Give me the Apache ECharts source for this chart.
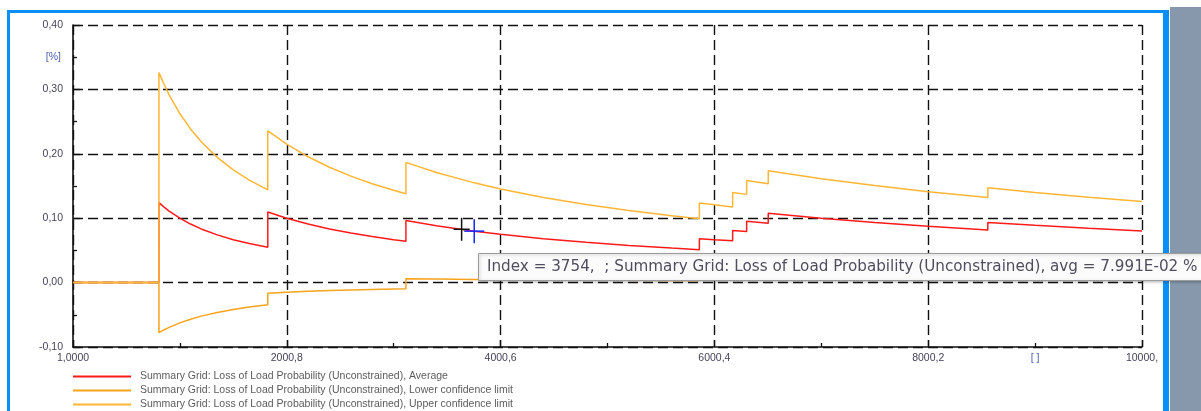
<!DOCTYPE html>
<html>
<head>
<meta charset="utf-8">
<title>Loss of Load Probability</title>
<script src="https://cdn.jsdelivr.net/npm/echarts@6/dist/echarts.min.js"></script>
<style>
  html, body { margin: 0; padding: 0; background: #ffffff; }
  #chart { width: 1201px; height: 411px; }
</style>
</head>
<body>
<div id="chart"></div>
<script>
// Iteration index; an index is repeated where a new event makes the estimate step.
const iterations = [
  1, 805,
  805, 850, 900, 1000, 1100, 1200, 1350, 1500, 1650, 1823,
  1823, 2000, 2200, 2400, 2600, 2800, 3000, 3115,
  3115, 3400, 3754, 4000, 4400, 4800, 5200, 5600, 5860,
  5860, 6000, 6171,
  6171, 6302,
  6302, 6504,
  6504, 7000, 7500, 8000, 8558,
  8558, 9000, 9500, 10000
];

// Running average [%]
const avgValues = [
  0, 0,
  0.12422, 0.11765, 0.11111, 0.10000, 0.09091, 0.08333, 0.07407, 0.06667, 0.06061, 0.05485,
  0.10971, 0.10000, 0.09091, 0.08333, 0.07692, 0.07143, 0.06667, 0.06421,
  0.09631, 0.08824, 0.07991, 0.07500, 0.06818, 0.06250, 0.05769, 0.05357, 0.05119,
  0.06826, 0.06667, 0.06482,
  0.08102, 0.07934,
  0.09521, 0.09225,
  0.10763, 0.10000, 0.09333, 0.08750, 0.08180,
  0.09348, 0.08889, 0.08421, 0.08000
];

// Lower confidence limit [%]
const lowerValues = [
  0, 0,
  -0.07764, -0.07353, -0.06944, -0.06250, -0.05682, -0.05208, -0.04630, -0.04167, -0.03788, -0.03428,
  -0.01635, -0.01490, -0.01355, -0.01242, -0.01146, -0.01064, -0.00993, -0.00957,
  0.00595, 0.00545, 0.00494, 0.00464, 0.00421, 0.00386, 0.00357, 0.00331, 0.00316,
  0.01280, 0.01250, 0.01215,
  0.02214, 0.02168,
  0.03205, 0.03105,
  0.04152, 0.03858, 0.03601, 0.03376, 0.03156,
  0.03978, 0.03782, 0.03583, 0.03404
];

// Upper confidence limit [%]
const upperValues = [
  0, 0,
  0.32609, 0.30882, 0.29167, 0.26250, 0.23864, 0.21875, 0.19444, 0.17500, 0.15909, 0.14399,
  0.23577, 0.21490, 0.19536, 0.17908, 0.16531, 0.15350, 0.14327, 0.13798,
  0.18666, 0.17102, 0.15489, 0.14537, 0.13215, 0.12114, 0.11182, 0.10383, 0.09923,
  0.12372, 0.12083, 0.11748,
  0.13990, 0.13700,
  0.15837, 0.15345,
  0.17373, 0.16142, 0.15066, 0.14124, 0.13203,
  0.14718, 0.13996, 0.13259, 0.12596
];

// Axis ticks and labels
const xTickValues = [1, 2000.8, 4000.6, 6000.4, 8000.2, 10000];
const xTickLabels = ['1,0000', '2000,8', '4000,6', '6000,4', '8000,2', '10000,'];
const xMinorValues = [1000.9, 3000.7, 5000.5, 7000.3, 9000.1];
const xUnitAt = 9000.1;
const xUnitLabel = '[ ]';
const yMin = -0.1, yMax = 0.4, yStep = 0.1;
const yMinorValues = [-0.05, 0.05, 0.15, 0.25, 0.35];
const yUnitAt = 0.35;
const yUnitLabel = '[%]';

const seriesTitle = 'Summary Grid: Loss of Load Probability (Unconstrained)';
const seriesNames = [
  seriesTitle + ', Average',
  seriesTitle + ', Lower confidence limit',
  seriesTitle + ', Upper confidence limit'
];

// Probed sample and mouse cursor position (index, value)
const probePoint = [3754, 0.07991];
const cursorPoint = [3636, 0.0828];

const colors = { avg: '#ff1a1a', lower: '#f8a31c', upper: '#ffb634' };

function sci(v) {
  const [m, e] = v.toExponential(3).split('e');
  const n = parseInt(e, 10);
  return m + 'E' + (n < 0 ? '-' : '+') + String(Math.abs(n)).padStart(2, '0');
}

const probeText = 'Index = ' + probePoint[0] + ',  ; ' + seriesTitle + ', avg = ' + sci(probePoint[1]) + ' %';

const pairs = vals => iterations.map((x, i) => [x, vals[i]]);

const labelFont = { fontSize: 10.5, fontFamily: 'Liberation Sans, Arial, sans-serif' };
const gridLine = { show: true, lineStyle: { color: '#111111', width: 1.4, type: [10, 5] } };

const chart = echarts.init(document.getElementById('chart'), null, { renderer: 'canvas' });

chart.setOption({
  backgroundColor: '#ffffff',
  animation: false,
  grid: { left: 73, right: 59, top: 25, bottom: 64, containLabel: false },
  legend: {
    data: seriesNames,
    orient: 'vertical',
    left: 73,
    top: 371,
    padding: 0,
    icon: 'rect',
    itemWidth: 58,
    itemHeight: 2,
    itemGap: 3,
    selectedMode: false,
    textStyle: Object.assign({ color: '#5c5c5c', padding: [0, 0, 0, 4] }, labelFont)
  },
  xAxis: [
    {
      type: 'value', min: 1, max: 10000, position: 'bottom',
      axisLine: { show: true, onZero: false, lineStyle: { color: '#111111', width: 1.6 } },
      axisTick: { show: true, inside: true, length: 7, customValues: xTickValues, lineStyle: { color: '#111111', width: 1.3 } },
      axisLabel: Object.assign({
        customValues: xTickValues, margin: 6, color: '#44445a',
        formatter: v => {
          const i = xTickValues.findIndex(t => Math.abs(t - v) < 1e-6);
          return i >= 0 ? xTickLabels[i] : '';
        }
      }, labelFont),
      splitLine: gridLine
    },
    {
      type: 'value', min: 1, max: 10000, position: 'bottom',
      axisLine: { show: false, onZero: false },
      axisTick: { show: true, inside: true, length: 4, customValues: xMinorValues, lineStyle: { color: '#111111', width: 1.3 } },
      axisLabel: Object.assign({ customValues: [xUnitAt], margin: 6, color: '#4a5fb0', formatter: () => xUnitLabel }, labelFont),
      splitLine: { show: false }
    }
  ],
  yAxis: [
    {
      type: 'value', min: yMin, max: yMax, interval: yStep, position: 'left',
      axisLine: { show: true, onZero: false, lineStyle: { color: '#111111', width: 1.6 } },
      axisTick: { show: true, inside: true, length: 7, lineStyle: { color: '#111111', width: 1.3 } },
      axisLabel: Object.assign({ margin: 10, color: '#44445a', formatter: v => v.toFixed(2).replace('.', ',') }, labelFont),
      splitLine: gridLine
    },
    {
      type: 'value', min: yMin, max: yMax, position: 'left',
      axisLine: { show: false, onZero: false },
      axisTick: { show: true, inside: true, length: 4, customValues: yMinorValues, lineStyle: { color: '#111111', width: 1.3 } },
      axisLabel: Object.assign({ customValues: [yUnitAt], margin: 12, color: '#4a5fb0', formatter: () => yUnitLabel }, labelFont),
      splitLine: { show: false }
    }
  ],
  series: [
    {
      name: seriesNames[0], type: 'line', data: pairs(avgValues),
      symbol: 'none', showSymbol: false, color: colors.avg,
      lineStyle: { color: colors.avg, width: 1.5 }, z: 3
    },
    {
      name: seriesNames[1], type: 'line', data: pairs(lowerValues),
      symbol: 'none', showSymbol: false, color: colors.lower,
      lineStyle: { color: colors.lower, width: 1.5 }, z: 4
    },
    {
      name: seriesNames[2], type: 'line', data: pairs(upperValues),
      symbol: 'none', showSymbol: false, color: colors.upper,
      lineStyle: { color: colors.upper, width: 1.5 }, z: 5
    },
    {
      // crosshair markers: probed sample (blue) and mouse cursor (black)
      type: 'custom', silent: true, z: 10, clip: false,
      data: [
        [probePoint[0], probePoint[1]],
        [cursorPoint[0], cursorPoint[1]]
      ],
      renderItem: (params, api) => {
        const item = params.dataIndex === 0
          ? { arm: [10, 12], stroke: '#1428ff' }
          : { arm: [8, 11.5], stroke: '#111111' };
        const p = api.coord([api.value(0), api.value(1)]);
        const style = { stroke: item.stroke, lineWidth: 1.5 };
        return {
          type: 'group',
          children: [
            { type: 'line', shape: { x1: p[0] - item.arm[0], y1: p[1], x2: p[0] + item.arm[0], y2: p[1] }, style },
            { type: 'line', shape: { x1: p[0], y1: p[1] - item.arm[1], x2: p[0], y2: p[1] + item.arm[1] }, style }
          ]
        };
      }
    }
  ],
  graphic: [
    // window frame
    { type: 'rect', silent: true, z: 100, shape: { x: 8.5, y: 11.5, width: 1156, height: 420 },
      style: { fill: null, stroke: '#0a8ef7', lineWidth: 3 } },
    { type: 'rect', silent: true, z: 100, shape: { x: 1163, y: 10, width: 6, height: 401 },
      style: { fill: '#0a8ef7' } },
    { type: 'rect', silent: true, z: 100, shape: { x: 1170, y: 7, width: 31, height: 404 },
      style: { fill: '#8898ac' } },
    // probe readout
    { type: 'rect', silent: true, z: 120, shape: { x: 478.5, y: 253.5, width: 760, height: 27 },
      style: { fill: '#fbfbfb', stroke: '#9c9c9c', lineWidth: 1, shadowBlur: 3, shadowOffsetX: 1, shadowOffsetY: 1, shadowColor: 'rgba(0,0,0,0.25)' } },
    { type: 'text', silent: true, z: 121, x: 487, y: 267,
      style: { text: probeText, fill: '#4e4e5e', font: '15.2px "DejaVu Sans", sans-serif', verticalAlign: 'middle' } }
  ]
});
</script>
</body>
</html>
